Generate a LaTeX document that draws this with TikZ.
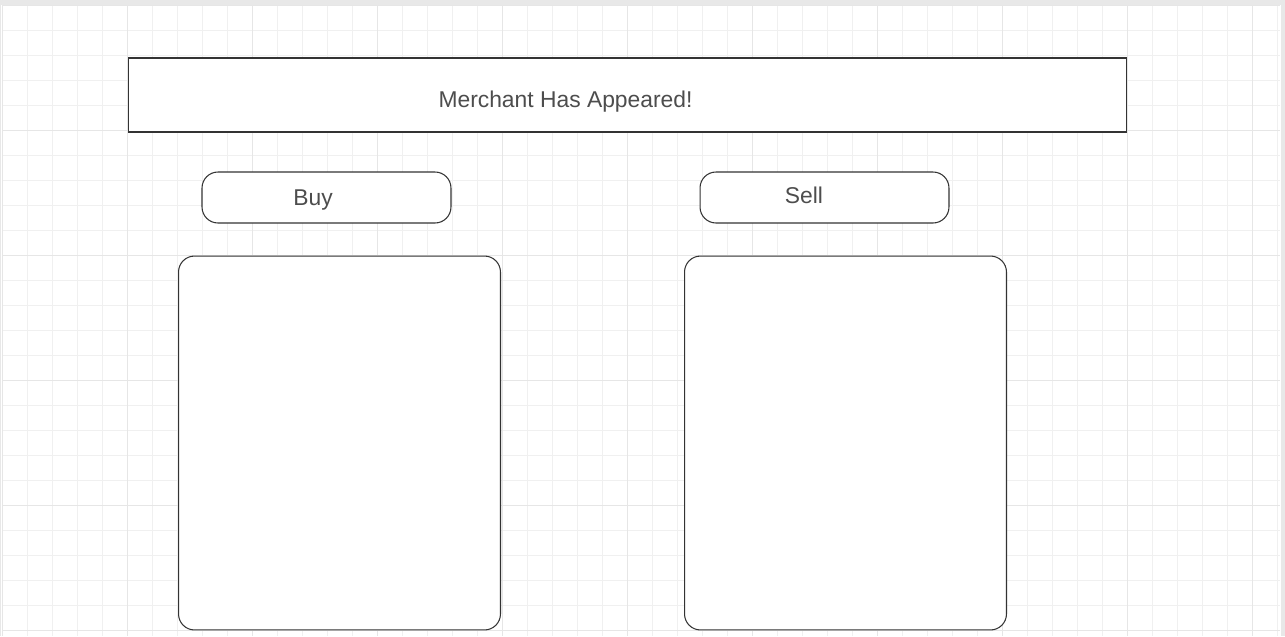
\documentclass[tikz,border=0pt]{standalone}
\usepackage{fontspec}
\setmainfont{Liberation Sans}
\usepackage{tikz}
\usetikzlibrary{positioning}
\definecolor{gridminor}{HTML}{F0F0F0}
\definecolor{gridmajor}{HTML}{E6E6E6}
\definecolor{edge}{HTML}{E8E8E8}
\definecolor{ink}{HTML}{333333}
\definecolor{txt}{HTML}{4D4D4D}
\tikzset{
  panel/.style={draw=ink, line width=0.6pt, fill=white, inner sep=0pt},
  banner/.style={panel, minimum width=19.98cm, minimum height=1.48cm},
  tab/.style={panel, rounded corners=0.32cm, minimum width=4.98cm, minimum height=1.02cm},
  listbox/.style={panel, rounded corners=0.32cm, minimum width=6.44cm, minimum height=7.48cm},
  label/.style={text=txt, font=\fontsize{13}{15}\selectfont, inner sep=0pt, anchor=base}}

\begin{document}
\begin{tikzpicture}[x=0.02cm, y=-0.02cm]
  \useasboundingbox (0,0) rectangle (1285,636);
  \fill[white] (0,0) rectangle (1285,636);
  % grid paper
  \foreach \x in {2,27,...,1277} \draw[gridminor, line width=0.55pt] (\x,5) -- (\x,636);
  \foreach \y in {5,30,...,630} \draw[gridminor, line width=0.55pt] (2,\y) -- (1280,\y);
  \foreach \x in {2,127,...,1252} \draw[gridmajor, line width=0.55pt] (\x,5) -- (\x,636);
  \foreach \y in {5,130,...,630} \draw[gridmajor, line width=0.55pt] (2,\y) -- (1280,\y);
  \fill[edge] (0,0) rectangle (1285,5);
  \fill[edge] (0,0) rectangle (1.5,636);
  \fill[edge] (1280.5,0) rectangle (1285,636);
  % header
  \node[banner] (header) at (627.5,95) {};
  \node[label] (headertext) at (565.5,107.5) {Merchant Has Appeared!};
  % buy side
  \node[tab] (buytab) at (326.5,197.5) {};
  \node[label] (buytext) at (313,205.5) {Buy};
  \node[listbox] (buylist) at (339.5,443) {};
  % sell side
  \node[tab] (selltab) at (824.5,197.5) {};
  \node[label] (selltext) at (804,203.5) {Sell};
  \node[listbox] (selllist) at (845.5,443) {};
\end{tikzpicture}
\end{document}
